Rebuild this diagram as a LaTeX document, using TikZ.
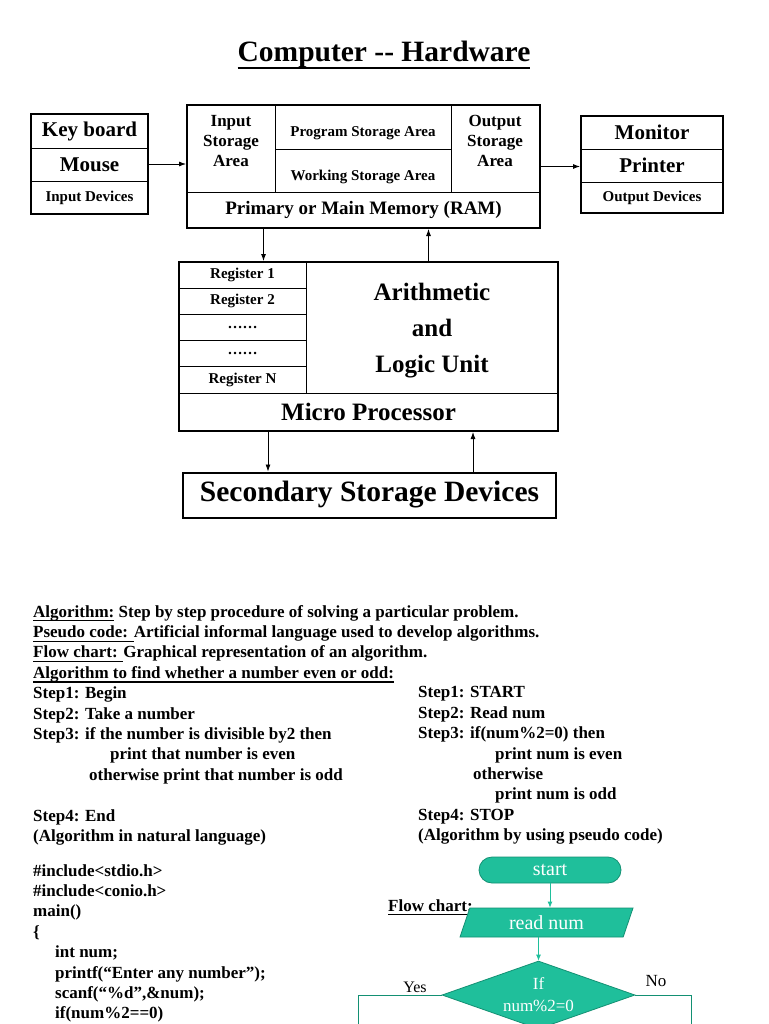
\documentclass[tikz,border=0pt]{standalone}
\usepackage{fontspec}
\setmainfont{Liberation Serif}
\usetikzlibrary{shapes.geometric, arrows.meta, positioning}
\definecolor{flowfill}{HTML}{1FBF9B}
\definecolor{flowedge}{HTML}{139073}
\newsavebox\ulbox
\newcommand{\undl}[2][1.2pt]{\sbox\ulbox{#2}\rlap{\vrule width\wd\ulbox height -0.18em depth \dimexpr0.18em+#1\relax}\usebox\ulbox}

\begin{document}
\begin{tikzpicture}[x=1pt, y=-1pt,
  frame/.style={draw, line width=2pt, inner sep=0pt},
  cell/.style={draw, line width=0.8pt, inner sep=0pt, outer sep=0pt, align=center, font=\bfseries\fontsize{15}{18}\selectfont},
  lowtext/.style={text height=21pt, text depth=1.8pt},
  label/.style={inner sep=0pt, align=center, font=\bfseries\fontsize{17}{20}\selectfont},
  big/.style={font=\bfseries\fontsize{21}{24}\selectfont},
  huge/.style={font=\bfseries\fontsize{25}{36}\selectfont},
  arrow/.style={-{Latex[length=7pt, width=5pt]}, line width=0.8pt},
  txt/.style={anchor=north west, inner sep=0pt, align=left, font=\bfseries\fontsize{17}{20.4}\selectfont},
  flowbox/.style={fill=flowfill, draw=flowedge, line width=0.8pt, text=white, font=\fontsize{20}{22}\selectfont},
  flowarrow/.style={-{Latex[length=6pt, width=5pt]}, draw=flowfill, line width=0.8pt},
  flowline/.style={draw=flowedge, line width=0.6pt}
]
  \path[fill=white, use as bounding box] (0,0) rectangle (768,1024);

  \node[anchor=base, inner sep=0pt, font=\bfseries\fontsize{29.5}{32}\selectfont] (title) at (384,61.5) {\undl[1.8pt]{Computer -{}- Hardware}};

  % input devices
  \node[cell, big, minimum width=117pt, minimum height=34pt] (kbd) at (89.5,131) {Key board};
  \node[cell, big, minimum width=117pt, minimum height=33pt, below=0pt of kbd] (mouse) {Mouse};
  \node[cell, minimum width=117pt, minimum height=33pt, below=0pt of mouse] (indev) {Input Devices};
  \node[frame, minimum width=117pt, minimum height=100pt] (inbox) at (89.5,164) {};

  % main memory
  \node[label] (isa) at (231,141) {Input\\Storage\\Area};
  \node[cell, lowtext, minimum width=176pt, minimum height=44pt] (psa) at (363,127) {Program Storage Area};
  \node[cell, lowtext, minimum width=176pt, minimum height=43pt, below=0pt of psa] (wsa) {Working Storage Area};
  \node[label] (osa) at (495,141) {Output\\Storage\\Area};
  \node[cell, minimum width=353pt, minimum height=36pt, font=\bfseries\fontsize{19}{22}\selectfont] (ram) at (363.5,210) {Primary or Main Memory (RAM)};
  \node[frame, minimum width=353pt, minimum height=123pt] (mem) at (363.5,166.5) {};

  % output devices
  \node[cell, big, minimum width=142pt, minimum height=33pt] (monitor) at (652,132.5) {Monitor};
  \node[cell, big, minimum width=142pt, minimum height=33pt, below=0pt of monitor] (printer) {Printer};
  \node[cell, minimum width=142pt, minimum height=31pt, below=0pt of printer] (outdev) {Output Devices};
  \node[frame, minimum width=142pt, minimum height=97pt] (outbox) at (652,164.5) {};

  % processor
  \foreach \t [count=\i] in {Register 1, Register 2, \ldots\ldots, \ldots\ldots, Register N}
    \node[cell, minimum width=127pt, minimum height=26.2pt] (reg\i) at (242.5,{262+26.2*(\i-0.5)}) {\t};
  \node[label, huge] (alu) at (432,331) {Arithmetic\\and\\Logic Unit};
  \node[cell, huge, minimum width=379pt, minimum height=38pt] (mp) at (368.5,412) {Micro Processor};
  \node[frame, minimum width=379pt, minimum height=169pt] (cpu) at (368.5,346.5) {};

  \node[frame, minimum width=373pt, minimum height=45pt, font=\bfseries\fontsize{29.5}{32}\selectfont] (sec) at (369.5,495) {Secondary Storage Devices};

  \draw[arrow] (inbox.east) -- (inbox.east -| mem.west);
  \draw[arrow] (mem.east) -- (mem.east -| outbox.west);
  \draw[arrow] ([xshift=-100pt]mem.south) -- ([xshift=-100pt]mem.south |- cpu.north);
  \draw[arrow] ([xshift=65pt]mem.south |- cpu.north) -- ([xshift=65pt]mem.south);
  \draw[arrow] ([xshift=-100.5pt]cpu.south) -- ([xshift=-100.5pt]cpu.south |- sec.north);
  \draw[arrow] ([xshift=104.5pt]cpu.south |- sec.north) -- ([xshift=104.5pt]cpu.south);

  % algorithm texts
  \node[txt] (defs) at (33,605) {\undl{Algorithm:} Step by step procedure of solving a particular problem.\\
    \undl{Pseudo code: }Artificial informal language used to develop algorithms.\\
    \undl{Flow chart: }Graphical representation of an algorithm.\\
    \undl{Algorithm to find whether a number even or odd:}\\
    Step1: Begin\\
    Step2: Take a number\\
    Step3: if the number is divisible by2 then\\
    \hspace*{77pt}print that number is even\\
    \hspace*{56pt}otherwise print that number is odd\\[20.4pt]
    Step4: End\\
    (Algorithm in natural language)};
  \node[txt] (pseudo) at (418,686.5) {Step1: START\\
    Step2: Read num\\
    Step3: if(num\%2=0) then\\
    \hspace*{77pt}print num is even\\
    \hspace*{55pt}otherwise\\
    \hspace*{77pt}print num is odd\\
    Step4: STOP\\
    (Algorithm by using pseudo code)};
  \node[txt] (code) at (33,864) {\#include<stdio.h>\\
    \#include<conio.h>\\
    main()\\
    \{\\
    \hspace*{22pt}int num;\\
    \hspace*{22pt}printf(“Enter any number”);\\
    \hspace*{22pt}scanf(“\%d”,\&num);\\
    \hspace*{22pt}if(num\%2==0)};

  % flow chart
  \node[anchor=base west, inner sep=0pt, font=\bfseries\fontsize{17}{20}\selectfont] (fctitle) at (388,911) {\undl{Flow chart:}};
  \node[flowbox, rounded corners=13pt, minimum width=142pt, minimum height=26pt] (start) at (550,870) {start};
  \node[flowbox, trapezium, trapezium left angle=55, trapezium right angle=125, trapezium stretches body, minimum width=173pt, minimum height=29pt, inner sep=0pt] (read) at (546.5,922.5) {read num};
  \node[flowbox, diamond, aspect=2.8, minimum width=193pt, minimum height=68pt, inner sep=0pt, align=center, font=\fontsize{17}{22}\selectfont] (dec) at (538.5,995) {If\\num\%2=0};
  \coordinate (yesend) at (358,1040);
  \coordinate (noend) at (691,1040);

  \draw[flowarrow] (start.south) -- (start.south |- read.north);
  \draw[flowarrow] (dec.north |- read.south) -- (dec.north);
  \draw[flowline] (dec.west) -| (yesend);
  \draw[flowline] (dec.east) -| (noend);
  \node[font=\fontsize{16}{18}\selectfont, inner sep=0pt] (yes) at (415,987) {Yes};
  \node[font=\fontsize{17}{18}\selectfont, inner sep=0pt] (no) at (656,981) {No};
\end{tikzpicture}
\end{document}
